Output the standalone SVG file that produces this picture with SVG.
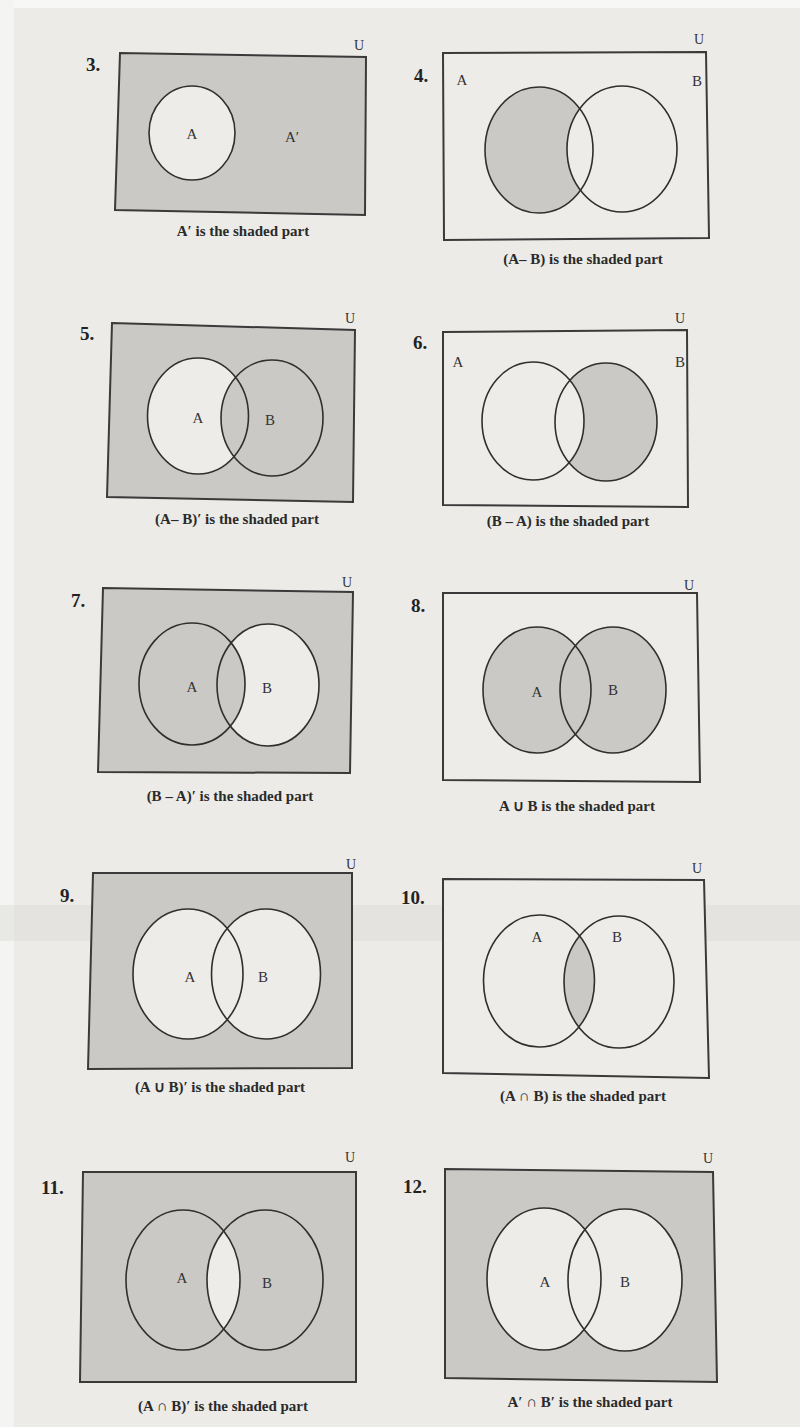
<svg xmlns="http://www.w3.org/2000/svg" width="800" height="1427" viewBox="0 0 800 1427">
<defs>
<style>
.page{fill:#ecebe8}
.box{stroke:#3a3a3a;stroke-width:2;stroke-linejoin:miter}
.sh{fill:#cac9c6}
.lt{fill:#edece9}
.ring{fill:none;stroke:#2f2f2f;stroke-width:1.6}
.num{font-family:"Liberation Serif",serif;font-weight:bold;font-size:19px;fill:#222}
.u{font-family:"Liberation Serif",serif;font-size:14px;fill:#333}
.lbl{font-family:"Liberation Serif",serif;font-size:15px;fill:#333;text-anchor:middle}
.cap{font-family:"Liberation Serif",serif;font-weight:bold;font-size:15px;fill:#2a2a2a;text-anchor:middle}
</style>
<clipPath id="c10"><ellipse cx="539" cy="981" rx="55.5" ry="66"/></clipPath>
<clipPath id="c11"><ellipse cx="183" cy="1280" rx="57" ry="70"/></clipPath>
</defs>
<rect class="page" x="0" y="0" width="800" height="1427"/>
<rect x="0" y="0" width="800" height="8" fill="#f7f7f6"/>
<rect x="0" y="0" width="14" height="1427" fill="#f4f4f3"/>
<rect x="0" y="905" width="800" height="36" fill="#dcdcd6" opacity="0.5"/>

<g id="panel3">
<polygon class="box sh" points="120,53 366,57 365,215 115,210"/>
<ellipse class="lt" cx="192" cy="133" rx="43" ry="47"/>
<ellipse class="ring" cx="192" cy="133" rx="43" ry="47"/>
<text class="num" x="86" y="71">3.</text>
<text class="u" x="354" y="50">U</text>
<text class="lbl" x="192" y="139">A</text>
<text class="lbl" x="292" y="142">A′</text>
<text class="cap" x="243" y="236">A′ is the shaded part</text>
</g>

<g id="panel4">
<polygon class="box lt" points="443,53 706,52 709,238 444,240"/>
<ellipse class="sh" cx="539" cy="150" rx="54" ry="63"/>
<ellipse class="lt" cx="622" cy="149" rx="55" ry="63"/>
<ellipse class="ring" cx="539" cy="150" rx="54" ry="63"/>
<ellipse class="ring" cx="622" cy="149" rx="55" ry="63"/>
<text class="num" x="414" y="82">4.</text>
<text class="u" x="694" y="44">U</text>
<text class="lbl" x="462" y="85">A</text>
<text class="lbl" x="697" y="86">B</text>
<text class="cap" x="583" y="264">(A– B) is the shaded part</text>
</g>

<g id="panel5">
<polygon class="box sh" points="112,323 355,330 353,502 107,497"/>
<ellipse class="lt" cx="198" cy="416" rx="50.5" ry="58"/>
<ellipse class="sh" cx="272" cy="418" rx="51" ry="58"/>
<ellipse class="ring" cx="198" cy="416" rx="50.5" ry="58"/>
<ellipse class="ring" cx="272" cy="418" rx="51" ry="58"/>
<text class="num" x="80" y="340">5.</text>
<text class="u" x="345" y="323">U</text>
<text class="lbl" x="198" y="423">A</text>
<text class="lbl" x="270" y="425">B</text>
<text class="cap" x="237" y="524">(A– B)′ is the shaded part</text>
</g>

<g id="panel6">
<polygon class="box lt" points="443,332 687,330 688,507 443,505"/>
<ellipse class="sh" cx="606" cy="422" rx="51" ry="59"/>
<ellipse class="lt" cx="533" cy="421" rx="51" ry="59"/>
<ellipse class="ring" cx="533" cy="421" rx="51" ry="59"/>
<ellipse class="ring" cx="606" cy="422" rx="51" ry="59"/>
<text class="num" x="413" y="349">6.</text>
<text class="u" x="675" y="323">U</text>
<text class="lbl" x="458" y="367">A</text>
<text class="lbl" x="680" y="367">B</text>
<text class="cap" x="568" y="526">(B – A) is the shaded part</text>
</g>

<g id="panel7">
<polygon class="box sh" points="103,588 353,592 350,773 98,772"/>
<ellipse class="lt" cx="268" cy="685" rx="51" ry="61"/>
<ellipse class="sh" cx="192" cy="684" rx="53" ry="61"/>
<ellipse class="ring" cx="192" cy="684" rx="53" ry="61"/>
<ellipse class="ring" cx="268" cy="685" rx="51" ry="61"/>
<text class="num" x="71" y="607">7.</text>
<text class="u" x="342" y="587">U</text>
<text class="lbl" x="192" y="692">A</text>
<text class="lbl" x="267" y="693">B</text>
<text class="cap" x="230" y="801">(B – A)′ is the shaded part</text>
</g>

<g id="panel8">
<polygon class="box lt" points="443,593 697,593 700,782 443,780"/>
<ellipse class="sh" cx="537" cy="690" rx="54" ry="63"/>
<ellipse class="sh" cx="613" cy="690" rx="53" ry="63"/>
<ellipse class="ring" cx="537" cy="690" rx="54" ry="63"/>
<ellipse class="ring" cx="613" cy="690" rx="53" ry="63"/>
<text class="num" x="411" y="612">8.</text>
<text class="u" x="684" y="590">U</text>
<text class="lbl" x="537" y="697">A</text>
<text class="lbl" x="613" y="695">B</text>
<text class="cap" x="577" y="811">A ∪ B is the shaded part</text>
</g>

<g id="panel9">
<polygon class="box sh" points="93,873 352,873 352,1068 88,1069"/>
<ellipse class="lt" cx="188" cy="974" rx="55" ry="65"/>
<ellipse class="lt" cx="266" cy="974" rx="54.5" ry="65"/>
<ellipse class="ring" cx="188" cy="974" rx="55" ry="65"/>
<ellipse class="ring" cx="266" cy="974" rx="54.5" ry="65"/>
<text class="num" x="60" y="902">9.</text>
<text class="u" x="346" y="869">U</text>
<text class="lbl" x="190" y="982">A</text>
<text class="lbl" x="263" y="982">B</text>
<text class="cap" x="220" y="1092">(A ∪ B)′ is the shaded part</text>
</g>

<g id="panel10">
<polygon class="box lt" points="443,879 704,880 709,1078 443,1073"/>
<ellipse class="sh" cx="619" cy="982" rx="55" ry="66" clip-path="url(#c10)"/>
<ellipse class="ring" cx="539" cy="981" rx="55.5" ry="66"/>
<ellipse class="ring" cx="619" cy="982" rx="55" ry="66"/>
<text class="num" x="401" y="904">10.</text>
<text class="u" x="692" y="873">U</text>
<text class="lbl" x="537" y="942">A</text>
<text class="lbl" x="617" y="942">B</text>
<text class="cap" x="583" y="1101">(A ∩ B) is the shaded part</text>
</g>

<g id="panel11">
<polygon class="box sh" points="83,1172 356,1172 356,1382 80,1382"/>
<ellipse class="lt" cx="265" cy="1280" rx="58" ry="70" clip-path="url(#c11)"/>
<ellipse class="ring" cx="183" cy="1280" rx="57" ry="70"/>
<ellipse class="ring" cx="265" cy="1280" rx="58" ry="70"/>
<text class="num" x="41" y="1194">11.</text>
<text class="u" x="345" y="1162">U</text>
<text class="lbl" x="182" y="1283">A</text>
<text class="lbl" x="267" y="1288">B</text>
<text class="cap" x="223" y="1411">(A ∩ B)′ is the shaded part</text>
</g>

<g id="panel12">
<polygon class="box sh" points="445,1169 713,1172 717,1382 445,1378"/>
<ellipse class="lt" cx="544" cy="1279" rx="57" ry="71"/>
<ellipse class="lt" cx="625" cy="1280" rx="57" ry="71"/>
<ellipse class="ring" cx="544" cy="1279" rx="57" ry="71"/>
<ellipse class="ring" cx="625" cy="1280" rx="57" ry="71"/>
<text class="num" x="403" y="1193">12.</text>
<text class="u" x="703" y="1163">U</text>
<text class="lbl" x="545" y="1287">A</text>
<text class="lbl" x="625" y="1287">B</text>
<text class="cap" x="590" y="1407">A′ ∩ B′ is the shaded part</text>
</g>
</svg>
